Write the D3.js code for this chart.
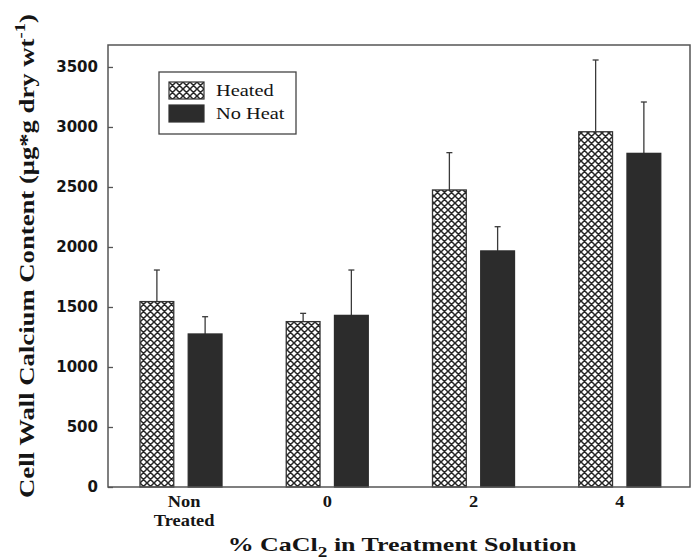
<!DOCTYPE html>
<html>
<head>
<meta charset="utf-8">
<script src="https://cdn.jsdelivr.net/npm/d3@7"></script>
<style>
  body { margin: 0; background: #fff; }
  text { fill: #151515; }
</style>
</head>
<body>
<div id="chart"></div>
<script>
var categories = ["Non Treated", "0", "2", "4"]
var series = ["Heated", "No Heat"]
var heated = [1545, 1378, 2475, 2960]
var heatedErr = [263, 69, 311, 598]
var noHeat = [1275, 1430, 1967, 2780]
var noHeatErr = [144, 378, 202, 428]
var yTicks = [0, 500, 1000, 1500, 2000, 2500, 3000, 3500]

var width = 692,
    height = 559,
    plotLeft = 108, plotRight = 690,
    plotTop = 45, plotBottom = 487

var svg = d3.select('#chart').append('svg')
    .attr('width', width)
    .attr('height', height)

// crosshatch for the heated bars
var defs = svg.append('defs')
var pat = defs.append('pattern')
    .attr('id', 'hatch')
    .attr('patternUnits', 'userSpaceOnUse')
    .attr('width', 7)
    .attr('height', 7)
pat.append('rect').attr('width', 7).attr('height', 7).attr('fill', '#fff')
pat.append('path')
    .attr('d', 'M0,0L7,7M7,0L0,7M-1,6L1,8M6,-1L8,1')
    .attr('stroke', '#262626')
    .attr('stroke-width', 1.5)

var x = d3.scaleBand()
    .domain(categories)
    .range([plotLeft, 693])

var xs = d3.scaleBand()
    .domain(series)
    .range([32, 114])
    .paddingInner(0.3)

var y = d3.scaleLinear()
    .domain([0, 3683])
    .range([plotBottom, plotTop])

var data = categories.map(function (c, i) {
    return [
        { cat: c, s: "Heated", v: heated[i], e: heatedErr[i] },
        { cat: c, s: "No Heat", v: noHeat[i], e: noHeatErr[i] }
    ]
}).flat()

function cx(d) { return x(d.cat) + xs(d.s) + xs.bandwidth() / 2 }

// widen the glyphs so a text gets the width it has in the figure
function widen(sel, base, target) {
    var len = sel.node().getComputedTextLength()
    sel.attr('transform', base + ' scale(' + (target / len) + ',1)')
}

// error bars (upper only)
var eb = svg.selectAll('.err')
    .data(data)
    .enter().append('g')
    .attr('class', 'err')
    .attr('stroke', '#3a3a3a')
    .attr('stroke-width', 1.3)
eb.append('line')
    .attr('x1', cx).attr('x2', cx)
    .attr('y1', function (d) { return y(d.v) })
    .attr('y2', function (d) { return y(d.v + d.e) })
eb.append('line')
    .attr('x1', function (d) { return cx(d) - 3 })
    .attr('x2', function (d) { return cx(d) + 3 })
    .attr('y1', function (d) { return y(d.v + d.e) })
    .attr('y2', function (d) { return y(d.v + d.e) })

// bars
svg.selectAll('.bar')
    .data(data)
    .enter().append('rect')
    .attr('class', 'bar')
    .attr('x', function (d) { return x(d.cat) + xs(d.s) })
    .attr('y', function (d) { return y(d.v) })
    .attr('width', xs.bandwidth())
    .attr('height', function (d) { return y(0) - y(d.v) })
    .attr('fill', function (d) { return d.s == "Heated" ? 'url(#hatch)' : '#2c2c2c' })
    .attr('stroke', function (d) { return d.s == "Heated" ? '#333' : '#2c2c2c' })
    .attr('stroke-width', 1.3)

// frame
svg.append('rect')
    .attr('x', plotLeft).attr('y', plotTop)
    .attr('width', plotRight - plotLeft).attr('height', plotBottom - plotTop)
    .attr('fill', 'none')
    .attr('stroke', '#555')
    .attr('stroke-width', 1.5)

// y axis, ticks inside
var yAxis = svg.append('g')
    .attr('transform', 'translate(' + plotLeft + ',0)')
    .call(d3.axisRight(y).tickValues(yTicks).tickSize(5).tickFormat(''))
yAxis.select('.domain').remove()
yAxis.selectAll('line').attr('stroke', '#555').attr('stroke-width', 1.3)

svg.append('g').selectAll('text')
    .data(yTicks)
    .enter().append('text')
    .attr('x', 98)
    .attr('y', function (d) { return y(d) })
    .attr('dy', '0.36em')
    .attr('text-anchor', 'end')
    .style('font', 'bold 15px "DejaVu Sans"')
    .text(function (d) { return d })

// x labels
svg.append('g').selectAll('g')
    .data(categories)
    .enter().append('g')
    .attr('transform', function (d) {
        return 'translate(' + (x(d) + x.bandwidth() / 2 + (d == "Non Treated" ? 3 : 0)) + ',507)'
    })
    .each(function (d) {
        var g = d3.select(this)
        d.split(' ').forEach(function (p, i) {
            g.append('text')
                .attr('text-anchor', 'middle')
                .attr('y', i * 19)
                .attr('transform', 'scale(1.15,1)')
                .style('font', 'bold 16px "Liberation Serif"')
                .text(p)
        })
    })

// x title
var xt = svg.append('text')
    .attr('text-anchor', 'middle')
    .style('font', 'bold 19px "Liberation Serif"')
xt.append('tspan').text('% CaCl')
xt.append('tspan').attr('dy', 6).style('font-size', '14px').text('2')
xt.append('tspan').attr('dy', -6).text(' in Treatment Solution')
widen(xt, 'translate(402,551)', 349)

// y title
var yt = svg.append('text')
    .attr('text-anchor', 'middle')
    .style('font', 'bold 20px "Liberation Serif"')
yt.append('tspan').text('Cell Wall Calcium Content (\u03bcg*g dry wt')
yt.append('tspan').attr('dy', -9).style('font-size', '14px').text('-1')
yt.append('tspan').attr('dy', 9).text(')')
widen(yt, 'translate(34,256) rotate(-90)', 484)

// legend
var lg = svg.append('g')
lg.append('rect')
    .attr('x', 159).attr('y', 72)
    .attr('width', 137).attr('height', 62)
    .attr('fill', '#fff')
    .attr('stroke', '#444')
    .attr('stroke-width', 1.3)
var li = lg.selectAll('.li')
    .data(series)
    .enter().append('g')
    .attr('class', 'li')
    .attr('transform', function (d, i) { return 'translate(169,' + (82 + i * 23) + ')' })
li.append('rect')
    .attr('width', 35).attr('height', 17)
    .attr('fill', function (d) { return d == "Heated" ? 'url(#hatch)' : '#2c2c2c' })
    .attr('stroke', '#333')
    .attr('stroke-width', 1.2)
li.append('text')
    .attr('transform', 'translate(47,14) scale(1.2,1)')
    .style('font', '17px "Liberation Serif"')
    .text(function (d) { return d })
</script>
</body>
</html>
